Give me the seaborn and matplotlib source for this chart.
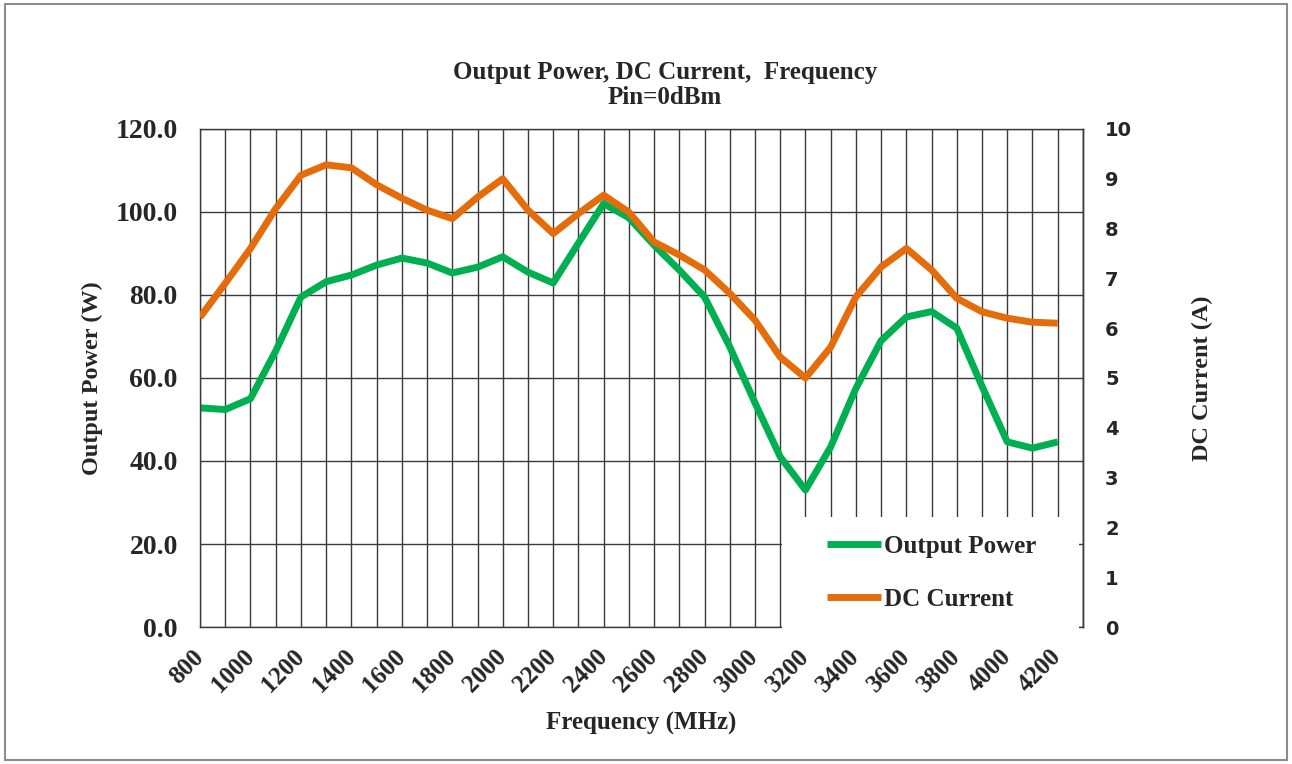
import matplotlib
matplotlib.use('Agg')
import matplotlib.pyplot as plt
from matplotlib.patches import Rectangle
from matplotlib.ticker import FormatStrFormatter, MultipleLocator
import seaborn as sns
import pandas as pd

# values, one per 100 MHz
freq = list(range(800, 4201, 100))
output_power = [52.8, 52.4, 55.0, 66.5, 79.5, 83.2, 84.8, 87.2, 88.9, 87.7,
                85.3, 86.7, 89.2, 85.5, 82.9, 92.5, 102.0, 98.6, 92.0, 86.0,
                79.5, 67.5, 54.0, 41.0, 33.0, 43.4, 57.5, 69.0, 74.7, 76.0,
                72.0, 58.0, 44.6, 43.1, 44.6]
dc_current = [6.22, 6.90, 7.60, 8.40, 9.07, 9.28, 9.22, 8.88, 8.61, 8.37,
              8.20, 8.63, 9.00, 8.37, 7.90, 8.30, 8.67, 8.33, 7.73, 7.47,
              7.17, 6.70, 6.16, 5.42, 5.00, 5.62, 6.63, 7.23, 7.60, 7.17,
              6.60, 6.33, 6.20, 6.12, 6.10]

df = pd.DataFrame({'freq': freq, 'power': output_power, 'current': dc_current})

sns.set_style('white')
plt.rcParams['font.family'] = ['Liberation Serif', 'DejaVu Serif']
plt.rcParams['font.weight'] = 'bold'

green = '#00B050'
orange = '#E46C0A'
gridc = '#3a3a3a'

fig, ax1 = plt.subplots(figsize=(12.92, 7.64), dpi=100)
fig.subplots_adjust(left=0.1548, right=0.8382, top=0.8312, bottom=0.1793)
ax2 = ax1.twinx()

sns.lineplot(data=df, x='freq', y='power', ax=ax1, color=green, lw=5,
             label='Output Power', legend=False, solid_capstyle='butt',
             solid_joinstyle='round')
sns.lineplot(data=df, x='freq', y='current', ax=ax2, color=orange, lw=5,
             label='DC Current', legend=False, solid_capstyle='butt',
             solid_joinstyle='round')

ax1.set_xlim(800, 4300)
ax1.set_ylim(0, 120)
ax2.set_ylim(0, 10)
ax1.xaxis.set_minor_locator(MultipleLocator(100))
ax1.set_xticks(range(800, 4201, 200))
ax1.set_yticks(range(0, 121, 20))
ax1.yaxis.set_major_formatter(FormatStrFormatter('%.1f'))
ax2.set_yticks(range(0, 11))

ax1.grid(True, which='both', axis='x', color=gridc, lw=1)
ax1.grid(True, which='major', axis='y', color=gridc, lw=1)
ax1.set_axisbelow(True)

for ax in (ax1, ax2):
    for s in ax.spines.values():
        s.set_color(gridc)
        s.set_linewidth(1)
    ax.tick_params(which='both', length=0)
ax2.spines['bottom'].set_visible(False)
ax2.spines['top'].set_visible(False)
ax2.spines['left'].set_visible(False)

ax1.tick_params(axis='y', pad=16, labelsize=20)
ax2.tick_params(axis='y', pad=16, labelsize=14)
for t in ax2.get_yticklabels():
    t.set_fontfamily('DejaVu Sans')
    t.set_fontweight('bold')
ax1.tick_params(axis='x', pad=19, labelsize=18)
plt.setp(ax1.get_xticklabels(), rotation=45, ha='right', va='center',
         rotation_mode='anchor')

ax1.set_xlabel('Frequency (MHz)', fontsize=18, fontweight='bold', labelpad=11)
ax1.set_ylabel('Output Power (W)', fontsize=17.5, fontweight='bold', labelpad=9)
ax2.set_ylabel('DC Current (A)', fontsize=17.5, fontweight='bold', labelpad=43)

fig.text(0.5147, 0.9045, 'Output Power, DC Current,  Frequency',
         ha='center', va='center', fontsize=18, fontweight='bold')
fig.text(0.5147, 0.873, 'Pin=0dBm',
         ha='center', va='center', fontsize=18, fontweight='bold')

# white box behind the legend hides the grid in the lower right
ax2.add_patch(Rectangle((0.659, -0.01), 0.337, 0.23, transform=ax2.transAxes,
                        facecolor='white', edgecolor='none', zorder=3,
                        clip_on=False))
h1, l1 = ax1.get_legend_handles_labels()
h2, l2 = ax2.get_legend_handles_labels()
leg = ax2.legend(h1 + h2, l1 + l2, loc='center left',
                 bbox_to_anchor=(0.696, 0.108), frameon=False,
                 fontsize=18, handlelength=2.16, handletextpad=0.12,
                 labelspacing=1.2, borderpad=0)
leg.set_zorder(4)

fig.patches.append(Rectangle((0.004, 0.005), 0.992, 0.99,
                             transform=fig.transFigure, fill=False,
                             edgecolor='#8c8c8c', lw=1.5))

fig.savefig('out.png', dpi=100)
